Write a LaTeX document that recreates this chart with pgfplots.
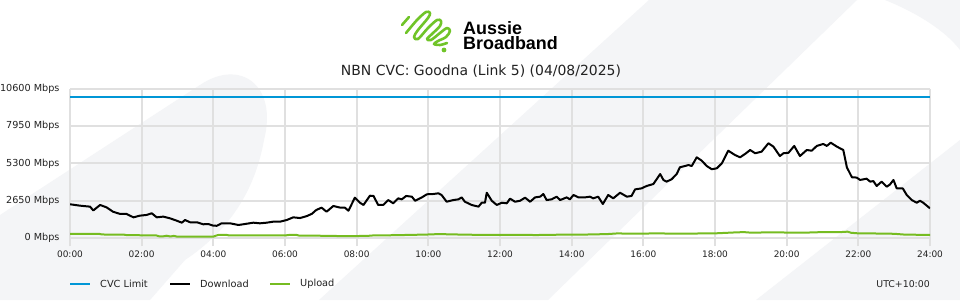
\documentclass[border=0pt]{standalone}
\usepackage{pgfplots}
\pgfplotsset{compat=1.18}
\usepackage{fontspec}
\setmainfont{DejaVu Sans}
\newfontfamily\logofont{Liberation Sans}
\definecolor{bggrey}{RGB}{244,245,247}
\definecolor{gridgrey}{RGB}{224,224,224}
\definecolor{cvcblue}{RGB}{0,150,214}
\definecolor{upgreen}{RGB}{118,188,33}
\definecolor{logogreen}{RGB}{112,196,40}
\definecolor{txt}{RGB}{34,34,34}

\pgfplotstableread{
h v
0 2400
0.28 2300
0.56 2230
0.65 1960
0.84 2350
1.02 2180
1.20 1870
1.40 1710
1.58 1710
1.77 1470
1.95 1590
2.14 1640
2.28 1760
2.42 1470
2.60 1520
2.79 1400
2.98 1230
3.12 1090
3.21 1280
3.35 1120
3.54 1120
3.72 975
3.86 995
4.00 875
4.10 870
4.23 1045
4.47 1045
4.70 925
4.88 995
5.12 1090
5.30 1045
5.49 1090
5.67 1160
5.86 1160
6.05 1280
6.23 1470
6.42 1420
6.61 1560
6.75 1720
6.87 1990
7.02 2160
7.16 1870
7.35 2280
7.54 2160
7.67 2160
7.77 1940
7.95 2870
8.09 2510
8.19 2350
8.37 3010
8.47 2990
8.60 2350
8.74 2350
8.88 2700
9.02 2470
9.16 2820
9.26 2750
9.38 2990
9.54 2940
9.63 2650
9.82 2890
9.96 3110
10.14 3130
10.28 3180
10.37 3060
10.51 2580
10.70 2700
10.84 2750
10.93 2890
11.02 2580
11.21 2350
11.40 2230
11.49 2510
11.58 2510
11.63 3220
11.77 2650
11.91 2350
12.05 2510
12.19 2470
12.28 2800
12.42 2580
12.56 2650
12.70 2870
12.84 2580
12.98 2890
13.12 2940
13.21 3130
13.30 2700
13.44 2750
13.58 2940
13.68 2700
13.86 2890
13.95 2750
14.05 3060
14.19 2890
14.37 2890
14.51 2940
14.60 2820
14.74 2940
14.87 2420
15.02 3060
15.16 2820
15.35 3220
15.54 2940
15.67 2990
15.77 3460
15.95 3530
16.09 3700
16.28 3840
16.47 4550
16.56 4130
16.65 4010
16.79 4180
16.93 4550
17.02 5030
17.16 5120
17.26 5190
17.35 5120
17.49 5740
17.63 5500
17.77 5120
17.91 4890
18.05 4960
18.19 5310
18.37 6210
18.56 5900
18.70 5740
18.84 5980
18.98 6260
19.12 6030
19.30 6140
19.49 6740
19.63 6500
19.81 5830
19.91 6030
20.05 6060
20.21 6550
20.37 5830
20.56 6260
20.70 6210
20.84 6550
21.02 6690
21.12 6550
21.23 6780
21.40 6500
21.58 6260
21.68 5030
21.82 4320
21.95 4300
22.05 4130
22.23 4220
22.33 4010
22.42 4050
22.51 3700
22.65 4010
22.79 3650
22.88 3800
22.98 4130
23.07 3530
23.24 3530
23.35 3060
23.49 2700
23.63 2510
23.72 2650
23.81 2510
24.00 2110
}\download

\pgfplotstableread{
h v
0 300
0.8 300
0.9 250
1.5 240
1.6 200
2.4 190
2.5 110
2.6 120
2.7 160
2.8 110
2.9 150
3.0 90
3.5 90
4.0 100
4.15 230
4.35 230
4.45 180
5.0 180
6.0 180
6.15 230
6.3 230
6.4 170
7.0 160
7.5 140
8.0 140
8.3 150
8.5 190
8.8 180
9.0 200
9.5 220
10.0 250
10.3 280
10.6 260
11.0 240
11.5 220
12.0 230
12.5 230
13.0 210
13.5 230
14.0 240
14.5 250
15.0 280
15.3 330
15.5 310
16.0 310
16.3 330
16.6 320
17.0 310
17.5 320
18.0 330
18.5 390
18.8 420
19.0 380
19.5 400
20.0 390
20.5 380
21.0 420
21.5 420
21.7 450
21.8 370
22.0 330
22.5 320
23.0 300
23.3 240
24 220
}\upload

\pgfplotstableread{
h v
0 10000
24 10000
}\cvc

\begin{document}
\begin{tikzpicture}[x=1bp,y=1bp]
\useasboundingbox (0,0) rectangle (960,300);
\fill[white] (0,0) rectangle (960,300);
\begin{scope}[shift={(0,300)},yscale=-1]
  % background decorative shapes
  \fill[bggrey] (0,215) -- (200,85) .. controls (240,58) and (278,85) .. (264,140)
     .. controls (255,190) and (230,230) .. (185,260) -- (150,300) -- (0,300) -- cycle;
  \fill[bggrey] (649,0) -- (857,0) -- (548,300) -- (319,300) -- cycle;
  \fill[bggrey] (960,140) -- (756,300) -- (960,300) -- cycle;
  \fill[bggrey] (885,0) .. controls (915,12) and (945,30) .. (960,50) -- (960,0) -- cycle;
  % logo icon
  \begin{scope}[logogreen, line width=2.6bp, line cap=round, line join=round]
    \draw (402,25) -- (409,17);
    \draw plot[smooth, tension=0.55] coordinates {(406,33) (417,20) (426,12) (430,13) (428,18) (418,30) (414,37) (418,39) (428,28) (437,20) (441,21) (440,26) (432,34) (427,39) (431,40) (440,33) (447,28) (450,31) (446,37) (438,41) (434,44) (440,45) (447,43)};
    \fill (444,50) circle (2.4);
  \end{scope}
  \node[anchor=base west, inner sep=0, text depth=0pt, font=\logofont\bfseries\fontsize{18}{18}\selectfont] at (463,34) {Aussie};
  \node[anchor=base west, inner sep=0, text height=13bp, font=\logofont\bfseries\fontsize{18}{18}\selectfont] at (463,49) {Broadband};
  % title
  \node[anchor=base, inner sep=0, text=txt, font=\fontsize{14}{16}\selectfont] at (481,75) {NBN CVC: Goodna (Link 5) (04/08/2025)};
  % legend
  \draw[cvcblue, line width=2bp] (70,284) -- (90,284);
  \node[anchor=west, inner sep=0, text=txt, font=\fontsize{9.8}{11}\selectfont] at (100,284) {CVC Limit};
  \draw[black, line width=2bp] (170,284) -- (190,284);
  \node[anchor=west, inner sep=0, text=txt, font=\fontsize{9.8}{11}\selectfont] at (200,284) {Download};
  \draw[upgreen, line width=2bp] (270,284) -- (290,284);
  \node[anchor=west, inner sep=0, text=txt, font=\fontsize{9.8}{11}\selectfont] at (300,284) {Upload};
  \node[anchor=east, inner sep=0, text=txt, font=\fontsize{9.4}{11}\selectfont] at (930,284) {UTC+10:00};
\end{scope}

\begin{axis}[
  at={(70bp,62bp)}, anchor=south west,
  scale only axis, width=860bp, height=149bp,
  xmin=0, xmax=24, ymin=0, ymax=10600,
  scaled y ticks=false, scaled x ticks=false,
  axis line style={draw=none},
  grid=major,
  grid style={gridgrey, line width=2bp},
  xtick={0,2,...,24},
  xticklabels={00:00,02:00,04:00,06:00,08:00,10:00,12:00,14:00,16:00,18:00,20:00,22:00,24:00},
  ytick={0,2650,5300,7950,10600},
  yticklabels={0 Mbps,2650 Mbps,5300 Mbps,7950 Mbps,10600 Mbps},
  xtick pos=bottom, ytick pos=left,
  tick align=outside,
  major tick length=8bp,
  xtick style={gridgrey, line width=2bp},
  ytick style={draw=none},
  x tick label style={font=\fontsize{9}{10}\selectfont, text=txt, yshift=-1bp},
  y tick label style={font=\fontsize{9.7}{11}\selectfont, text=txt, xshift=1bp},
]
\addplot[cvcblue, line width=2bp, no marks] table[x=h,y=v] {\cvc};
\addplot[upgreen, line width=2bp, no marks] table[x=h,y=v] {\upload};
\addplot[black, line width=2bp, no marks, line join=round] table[x=h,y=v] {\download};
\end{axis}
\end{tikzpicture}
\end{document}
